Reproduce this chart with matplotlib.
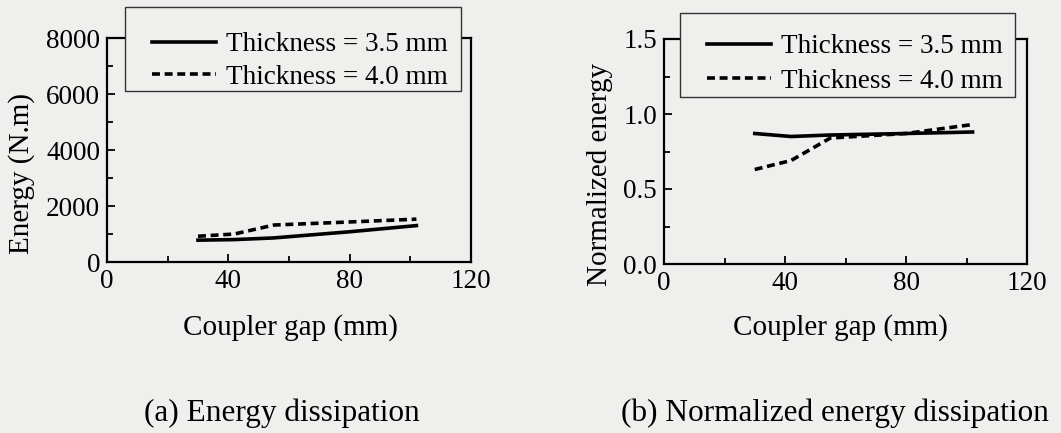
import matplotlib
matplotlib.use("Agg")
import matplotlib.pyplot as plt
from matplotlib.ticker import MultipleLocator, FormatStrFormatter
from matplotlib.patches import Rectangle

plt.rcParams['font.family'] = ['Liberation Serif', 'DejaVu Serif']

BG = '#efefed'

gap = [30, 42, 55, 80, 102]
energy_35 = [780, 800, 860, 1080, 1300]
energy_40 = [920, 1000, 1320, 1430, 1530]
norm_35 = [0.87, 0.85, 0.86, 0.87, 0.88]
norm_40 = [0.63, 0.69, 0.84, 0.87, 0.93]
labels = ['Thickness = 3.5 mm', 'Thickness = 4.0 mm']
captions = ['(a) Energy dissipation', '(b) Normalized energy dissipation']

W, H = 1061, 433
fig = plt.figure(figsize=(W / 100, H / 100), dpi=100, facecolor=BG)

def px(l, t, r, b):
    return [l / W, (H - b) / H, (r - l) / W, (b - t) / H]

FS = 19.5
LFS = 21
CFS = 22.5
DASH = (0, (2.2, 1.3))

def style(ax, xl_x, xl_y):
    ax.set_facecolor(BG)
    for s in ax.spines.values():
        s.set_linewidth(1.6)
    ax.tick_params(which='both', direction='in', labelsize=FS, top=False, right=False,
                   width=1.3, pad=5)
    ax.tick_params(which='major', length=6)
    ax.tick_params(which='minor', length=4)
    ax.set_xlim(0, 120)
    ax.xaxis.set_major_locator(MultipleLocator(40))
    ax.xaxis.set_minor_locator(MultipleLocator(20))
    ax.set_xlabel('Coupler gap (mm)', fontsize=LFS)
    ax.xaxis.label.set_va('center')
    ax.xaxis.set_label_coords(xl_x, xl_y)

def add_legend(ax, box, anchor, spacing):
    l, t, r, b = box
    fig.add_artist(Rectangle((l / W, (H - b) / H), (r - l) / W, (b - t) / H,
                             transform=fig.transFigure, facecolor=BG,
                             edgecolor='#333333', linewidth=1.0, zorder=1))
    h, lab = ax.get_legend_handles_labels()
    leg = fig.legend(h, lab, loc='upper left', bbox_to_anchor=anchor,
                     bbox_transform=fig.transFigure, fontsize=FS, frameon=False,
                     handlelength=2.35, handletextpad=0.37, borderpad=0.0,
                     labelspacing=spacing, borderaxespad=0)
    leg.set_zorder(2)

# (a)
ax1 = fig.add_axes(px(107, 38, 471, 262))
style(ax1, (290 - 107) / 364, (262 - 328) / 224)
ax1.plot(gap, energy_35, color='black', lw=2.6, label=labels[0])
ax1.plot(gap, energy_40, color='black', lw=2.6, ls=DASH, label=labels[1])
ax1.set_ylim(0, 8000)
ax1.yaxis.set_major_locator(MultipleLocator(2000))
ax1.yaxis.set_minor_locator(MultipleLocator(1000))
ax1.set_ylabel('Energy (N.m)', fontsize=LFS)
ax1.yaxis.label.set_va('center')
ax1.yaxis.set_label_coords((22 - 107) / 364, (262 - 174) / 224)
add_legend(ax1, (125, 7, 461, 91), (152 / W, (H - 32) / H), 0.28)

# (b)
ax2 = fig.add_axes(px(664, 39, 1027, 264))
style(ax2, (840 - 664) / 363, (264 - 328) / 225)
ax2.plot(gap, norm_35, color='black', lw=2.6, label=labels[0])
ax2.plot(gap, norm_40, color='black', lw=2.6, ls=DASH, label=labels[1])
ax2.set_ylim(0, 1.5)
ax2.yaxis.set_major_locator(MultipleLocator(0.5))
ax2.yaxis.set_minor_locator(MultipleLocator(0.25))
ax2.yaxis.set_major_formatter(FormatStrFormatter('%.1f'))
ax2.set_ylabel('Normalized energy', fontsize=LFS)
ax2.yaxis.label.set_va('center')
ax2.yaxis.set_label_coords((600 - 664) / 363, (264 - 174) / 225)
add_legend(ax2, (680, 13, 1015, 97), (707 / W, (H - 34) / H), 0.36)

fig.text(282 / W, 1 - 413 / H, captions[0], fontsize=CFS, ha='center', va='center')
fig.text(835 / W, 1 - 413 / H, captions[1], fontsize=CFS, ha='center', va='center')

fig.savefig('out.png', dpi=100, facecolor=BG)
